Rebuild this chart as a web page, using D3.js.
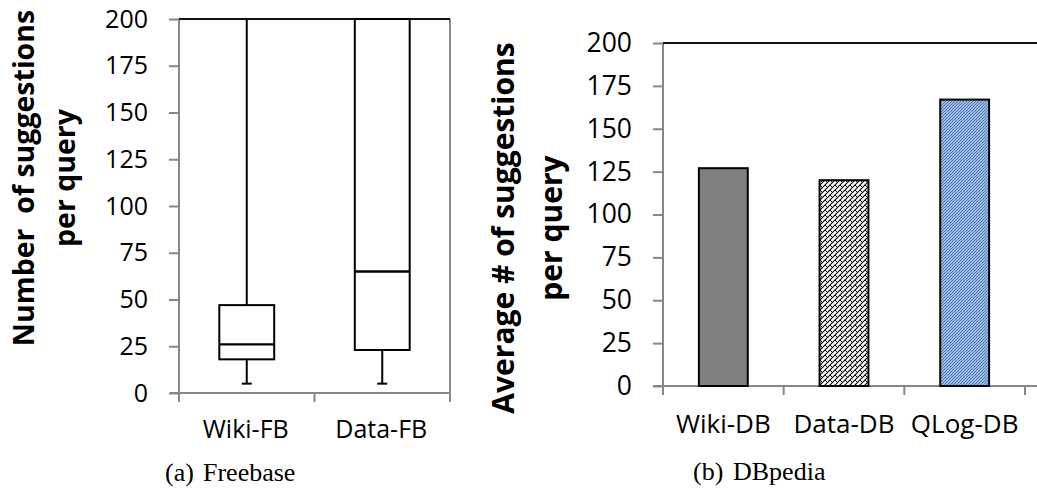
<!DOCTYPE html>
<html><head><meta charset="utf-8">
<script src="https://cdn.jsdelivr.net/npm/d3@7"></script>
<style>body{margin:0;background:#fff} svg{display:block}</style>
</head><body><svg id="c" width="1037" height="489"></svg>
<script>
const yTicks = [0, 25, 50, 75, 100, 125, 150, 175, 200];
const fbCategories = ["Wiki-FB", "Data-FB"];
const fbMin = [5, 5];
const fbQ1 = [18, 23];
const fbMedian = [26, 65];
const fbQ3 = [47, 200];
const fbMax = [200, 200];
const dbCategories = ["Wiki-DB", "Data-DB", "QLog-DB"];
const dbValues = [127, 120, 167];
const leftTitle = ["Number  of suggestions", "per query"];
const rightTitle = ["Average # of suggestions", "per query"];
const captionA = ["(a)", "Freebase"];
const captionB = ["(b)", "DBpedia"];

const svg = d3.select("#c");
const GRAY = "#878787";
const SANS = "'Open Sans', sans-serif";
const SERIF = "'Liberation Serif', 'Times New Roman', serif";

// patterns
const defs = svg.append("defs");
const p1 = defs.append("pattern").attr("id", "hatch").attr("patternUnits", "userSpaceOnUse")
  .attr("width", 5).attr("height", 5);
p1.append("rect").attr("width", 5).attr("height", 5).attr("fill", "#fff");
p1.append("path").attr("d", "M-1,6 L6,-1 M-1,1 L1,-1 M4,6 L6,4").attr("stroke", "#000").attr("stroke-width", 1.1);
p1.append("path").attr("d", "M0,0 L2.5,2.5").attr("stroke", "#000").attr("stroke-width", 1);
const p2 = defs.append("pattern").attr("id", "blue").attr("patternUnits", "userSpaceOnUse")
  .attr("width", 3).attr("height", 3);
p2.append("rect").attr("width", 3).attr("height", 3).attr("fill", "#fff");
p2.append("path").attr("d", "M-1,4 L4,-1 M-1,1 L1,-1 M2,4 L4,2").attr("stroke", "#4a7bbf").attr("stroke-width", 1.5);

// ---------- Left: box plot ----------
const yL = d3.scaleLinear().domain([0, 200]).range([393, 19]);
const xL = d3.scaleBand().domain(fbCategories).range([179, 450]);
const gL = svg.append("g");

const axL = d3.axisLeft(yL).tickValues(yTicks).tickSize(10).tickPadding(21).tickSizeOuter(0);
gL.append("g").attr("transform", "translate(179,0)").call(axL)
  .call(g => g.select(".domain").remove())
  .call(g => g.selectAll(".tick line").attr("stroke", GRAY).attr("stroke-width", 2))
  .call(g => g.selectAll(".tick text").attr("font-family", SANS).attr("font-size", 25).attr("fill", "#000"));

// axis frame
gL.append("line").attr("x1", 179).attr("x2", 179).attr("y1", yL(200)).attr("y2", yL(0) + 9).attr("stroke", GRAY).attr("stroke-width", 2);
gL.append("line").attr("x1", 170).attr("x2", xL.range()[1]).attr("y1", yL(0)).attr("y2", yL(0)).attr("stroke", GRAY).attr("stroke-width", 2);
gL.append("line").attr("x1", xL.range()[1]).attr("x2", xL.range()[1]).attr("y1", yL(200)).attr("y2", yL(0) + 9).attr("stroke", GRAY).attr("stroke-width", 2);
gL.selectAll("line.xt").data(fbCategories.slice(1)).enter().append("line")
  .attr("x1", d => xL(d)).attr("x2", d => xL(d)).attr("y1", yL(0)).attr("y2", yL(0) + 9)
  .attr("stroke", GRAY).attr("stroke-width", 2);
gL.append("line").attr("x1", 179).attr("x2", xL.range()[1]).attr("y1", yL(200)).attr("y2", yL(200)).attr("stroke", "#111").attr("stroke-width", 2);

// x labels
gL.selectAll("text.xl").data(fbCategories).enter().append("text")
  .attr("x", d => xL(d) + xL.bandwidth() / 2 - 1).attr("y", 438)
  .attr("text-anchor", "middle").attr("font-family", SANS).attr("font-size", 25).text(d => d);

// boxes
const bw = xL.bandwidth() * 0.405;
const boxes = gL.selectAll("g.box").data(fbCategories.map((c, i) => ({c, i}))).enter().append("g");
boxes.append("line").attr("x1", d => xL(d.c) + xL.bandwidth() / 2).attr("x2", d => xL(d.c) + xL.bandwidth() / 2)
  .attr("y1", d => yL(fbQ3[d.i])).attr("y2", d => yL(fbMax[d.i])).attr("stroke", "#000").attr("stroke-width", 2);
boxes.append("line").attr("x1", d => xL(d.c) + xL.bandwidth() / 2).attr("x2", d => xL(d.c) + xL.bandwidth() / 2)
  .attr("y1", d => yL(fbQ1[d.i])).attr("y2", d => yL(fbMin[d.i])).attr("stroke", "#000").attr("stroke-width", 2);
boxes.append("line").attr("x1", d => xL(d.c) + xL.bandwidth() / 2 - 5).attr("x2", d => xL(d.c) + xL.bandwidth() / 2 + 5)
  .attr("y1", d => yL(fbMin[d.i])).attr("y2", d => yL(fbMin[d.i])).attr("stroke", "#000").attr("stroke-width", 2);
boxes.append("rect").attr("x", d => xL(d.c) + xL.bandwidth() / 2 - bw / 2).attr("width", bw)
  .attr("y", d => yL(fbQ3[d.i])).attr("height", d => yL(fbQ1[d.i]) - yL(fbQ3[d.i]))
  .attr("fill", "none").attr("stroke", "#000").attr("stroke-width", 2);
boxes.append("line").attr("x1", d => xL(d.c) + xL.bandwidth() / 2 - bw / 2).attr("x2", d => xL(d.c) + xL.bandwidth() / 2 + bw / 2)
  .attr("y1", d => yL(fbMedian[d.i])).attr("y2", d => yL(fbMedian[d.i])).attr("stroke", "#000").attr("stroke-width", 2.4);

// title
const tL = gL.append("text").attr("transform", "translate(0,178) rotate(-90)")
  .attr("text-anchor", "middle").attr("font-family", SANS).attr("font-weight", "bold").attr("font-size", 28.5)
  .style("white-space", "pre");
tL.selectAll("tspan").data(leftTitle).enter().append("tspan")
  .attr("x", 0).attr("y", (d, i) => i === 0 ? 34 : 75).text(d => d);

// caption
const cA = gL.append("text").attr("y", 481).attr("font-family", SERIF).attr("font-size", 26);
cA.append("tspan").attr("x", 165).text(captionA[0]);
cA.append("tspan").attr("x", 203).text(captionA[1]);

// ---------- Right: bar chart ----------
const yR = d3.scaleLinear().domain([0, 200]).range([386, 43]);
const xR = d3.scaleBand().domain(dbCategories).range([663, 1025]);
const gR = svg.append("g");

const axR = d3.axisLeft(yR).tickValues(yTicks).tickSize(10).tickPadding(21).tickSizeOuter(0);
gR.append("g").attr("transform", "translate(663,0)").call(axR)
  .call(g => g.select(".domain").remove())
  .call(g => g.selectAll(".tick line").attr("stroke", GRAY).attr("stroke-width", 2))
  .call(g => g.selectAll(".tick text").attr("font-family", SANS).attr("font-size", 26.5).attr("fill", "#000"));

gR.append("line").attr("x1", 663).attr("x2", 663).attr("y1", yR(200)).attr("y2", yR(0) + 9).attr("stroke", GRAY).attr("stroke-width", 2);
gR.append("line").attr("x1", 653).attr("x2", 1037).attr("y1", yR(0)).attr("y2", yR(0)).attr("stroke", GRAY).attr("stroke-width", 2);
gR.selectAll("line.xt").data(dbCategories.slice(1).concat(["end"])).enter().append("line")
  .attr("x1", d => d === "end" ? xR.range()[1] : xR(d)).attr("x2", d => d === "end" ? xR.range()[1] : xR(d))
  .attr("y1", yR(0)).attr("y2", yR(0) + 9).attr("stroke", GRAY).attr("stroke-width", 2);
gR.append("line").attr("x1", 663).attr("x2", 1037).attr("y1", yR(200)).attr("y2", yR(200)).attr("stroke", "#111").attr("stroke-width", 2);

const fills = ["#808080", "url(#hatch)", "url(#blue)"];
const barW = xR.bandwidth() * 0.405;
gR.selectAll("rect.bar").data(dbCategories).enter().append("rect")
  .attr("x", d => xR(d) + xR.bandwidth() / 2 - barW / 2).attr("width", barW)
  .attr("y", (d, i) => yR(dbValues[i])).attr("height", (d, i) => yR(0) - yR(dbValues[i]))
  .attr("fill", (d, i) => fills[i]).attr("stroke", "#000").attr("stroke-width", 2);

gR.selectAll("text.xl").data(dbCategories).enter().append("text")
  .attr("x", d => xR(d) + xR.bandwidth() / 2).attr("y", 433)
  .attr("text-anchor", "middle").attr("font-family", SANS).attr("font-size", 26).text(d => d);

const tR = gR.append("text").attr("transform", "translate(0,228) rotate(-90)")
  .attr("text-anchor", "middle").attr("font-family", SANS).attr("font-weight", "bold").attr("font-size", 30);
tR.selectAll("tspan").data(rightTitle).enter().append("tspan")
  .attr("x", 0).attr("y", (d, i) => i === 0 ? 514 : 562).text(d => d);

const cB = gR.append("text").attr("y", 480).attr("font-family", SERIF).attr("font-size", 26);
cB.append("tspan").attr("x", 693).text(captionB[0]);
cB.append("tspan").attr("x", 733).text(captionB[1]);
</script></body></html>
